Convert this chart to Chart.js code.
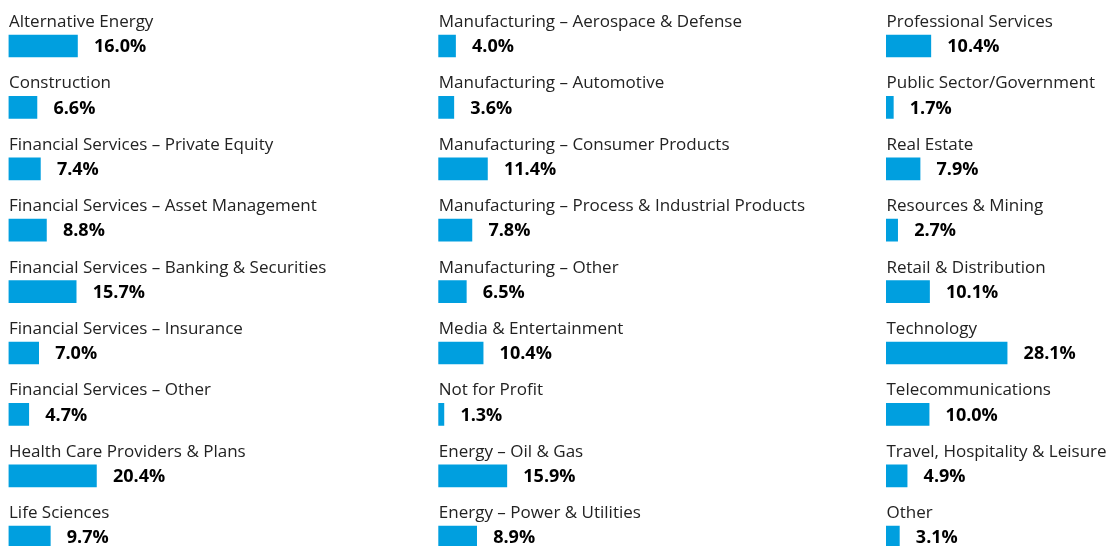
<!DOCTYPE html>
<html><head><meta charset="utf-8">
<script src="https://cdn.jsdelivr.net/npm/chart.js@4/dist/chart.umd.min.js"></script>
<style>
html,body{margin:0;padding:0;background:#fff;width:1108px;height:546px;overflow:hidden;position:relative}
canvas{position:absolute;top:0}
</style></head><body>
<canvas id="c1" width="430" height="580" style="left:0px"></canvas>
<canvas id="c2" width="450" height="580" style="left:430px"></canvas>
<canvas id="c3" width="228" height="580" style="left:880px"></canvas>
<script>
const labels1 = ["Alternative Energy","Construction","Financial Services – Private Equity","Financial Services – Asset Management","Financial Services – Banking & Securities","Financial Services – Insurance","Financial Services – Other","Health Care Providers & Plans","Life Sciences"];
const values1 = [16.0,6.6,7.4,8.8,15.7,7.0,4.7,20.4,9.7];
const labels2 = ["Manufacturing – Aerospace & Defense","Manufacturing – Automotive","Manufacturing – Consumer Products","Manufacturing – Process & Industrial Products","Manufacturing – Other","Media & Entertainment","Not for Profit","Energy – Oil & Gas","Energy – Power & Utilities"];
const values2 = [4.0,3.6,11.4,7.8,6.5,10.4,1.3,15.9,8.9];
const labels3 = ["Professional Services","Public Sector/Government","Real Estate","Resources & Mining","Retail & Distribution","Technology","Telecommunications","Travel, Hospitality & Leisure","Other"];
const values3 = [10.4,1.7,7.9,2.7,10.1,28.1,10.0,4.9,3.1];

const PX_PER_PCT = 4.31;
const BAR_COLOR = "#009fdf";
const FONT = "'Open Sans', sans-serif";

const labelPlugin = {
  id: 'labelPlugin',
  afterDatasetsDraw(chart) {
    const ctx = chart.ctx;
    const meta = chart.getDatasetMeta(0);
    const ds = chart.data.datasets[0];
    ctx.save();
    meta.data.forEach((bar, i) => {
      const top = bar.y - bar.height / 2;
      ctx.fillStyle = "#222";
      ctx.font = "17px " + FONT;
      ctx.textAlign = "left";
      ctx.textBaseline = "alphabetic";
      ctx.fillText(chart.data.labels[i], bar.base + 0.5, top - 8);
      ctx.fillStyle = "#000";
      ctx.font = "bold 18px " + FONT;
      ctx.textBaseline = "middle";
      ctx.fillText(ds.data[i].toFixed(1) + "%", bar.x + 16.5, bar.y + 1);
    });
    ctx.restore();
  }
};

function make(id, labels, values, padLeft) {
  const cv = document.getElementById(id);
  const areaW = cv.width - padLeft;
  new Chart(cv, {
    type: 'bar',
    data: { labels: labels, datasets: [{ data: values, backgroundColor: BAR_COLOR, barThickness: 22, borderWidth: 0 }] },
    options: {
      indexAxis: 'y',
      responsive: false,
      animation: false,
      layout: { padding: { left: padLeft, right: 0, top: 15.3, bottom: 580 - 567.9 } },
      plugins: { legend: { display: false }, tooltip: { enabled: false } },
      scales: {
        x: { display: false, min: 0, max: areaW / PX_PER_PCT },
        y: { display: false, offset: true }
      }
    },
    plugins: [labelPlugin]
  });
}
make('c1', labels1, values1, 8.5);
make('c2', labels2, values2, 8.3);
make('c3', labels3, values3, 6);
</script>
</body></html>
